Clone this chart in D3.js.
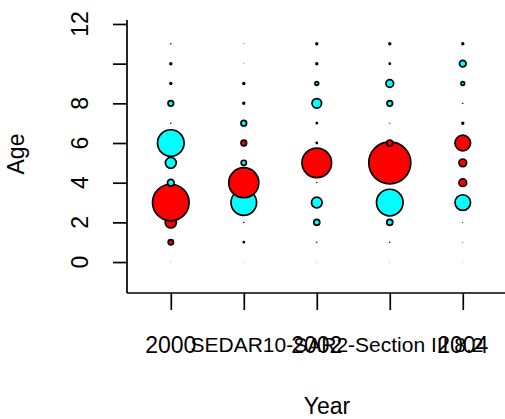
<!DOCTYPE html>
<html><head><meta charset="utf-8">
<script src="https://cdn.jsdelivr.net/npm/d3@7"></script>
<style>body{margin:0;background:#fff}svg{display:block}text{font-family:"Liberation Sans",Arial,sans-serif}</style>
</head><body>
<script>
const years = [2000, 2001, 2002, 2003, 2004];
const ages = [0, 1, 2, 3, 4, 5, 6, 7, 8, 9, 10, 11];
// residuals by age (0..11); positive = red, negative = cyan
const res2000 = [0.0003, 0.074, 0.34, 3.64, -0.12, -0.32, -1.92, 0.002, -0.085, 0.009, 0.009, 0.002];
const res2001 = [0.0003, 0.006, 0.002, -1.78, 2.45, -0.074, 0.085, -0.085, 0.009, 0.009, 0.0005, 0.0005];
const res2002 = [0.0003, 0.002, -0.098, -0.31, 0.002, 2.38, 0.006, 0.006, -0.25, -0.035, 0.009, 0.009];
const res2003 = [0.0003, 0.002, -0.098, -1.92, 0.002, 4.8, 0.098, 0.001, -0.085, -0.16, 0.006, 0.009];
const res2004 = [0.0003, 0.0005, 0.001, -0.66, 0.16, 0.16, 0.66, 0.009, 0.002, -0.035, -0.12, 0.009];
const residuals = [res2000, res2001, res2002, res2003, res2004];
const yTicks = [0, 2, 4, 6, 8, 10, 12];
const yTickLabels = ["0", "2", "4", "6", "8", "", "12"];
const xTicks = [2000, 2001, 2002, 2003, 2004];
const xTickLabels = ["2000", "", "2002", "", "2004"];
const xTitle = "Year", yTitle = "Age", footnote = "SEDAR10-SAR2-Section III 8.2";

const W = 505, H = 419;
const svg = d3.select("body").append("svg").attr("width", W).attr("height", H);
const x = d3.scaleLinear().domain([1999.4, 2004.88]).range([127, 527]);
const y = d3.scaleLinear().domain([-1.56, 12.2]).range([293, 20]);
const rMax = d3.max(residuals.flat(), d => Math.abs(d));
const r = d3.scaleSqrt().domain([0, rMax]).range([0, 21]);

const pts = [];
years.forEach((yr, i) => ages.forEach((a, j) => pts.push({yr, a, v: residuals[i][j]})));
svg.append("g").selectAll("circle").data(pts).join("circle")
  .attr("cx", d => x(d.yr)).attr("cy", d => y(d.a)).attr("r", d => r(Math.abs(d.v)))
  .attr("fill", d => d.v >= 0 ? "#ff0000" : "#00ffff")
  .attr("stroke", "#000")
  .attr("stroke-width", d => Math.min(1.7, 1.8 * r(Math.abs(d.v))));

// axes
const ax = svg.append("g").attr("transform", "translate(127,0)")
  .call(d3.axisLeft(y).tickValues(yTicks).tickSize(14).tickFormat(""));
const bx = svg.append("g").attr("transform", "translate(0,293)")
  .call(d3.axisBottom(x).tickValues(xTicks).tickSize(17).tickFormat(""));
[ax, bx].forEach(g => {
  g.selectAll("line,path").attr("stroke", "#000").attr("stroke-width", 1.7);
});
ax.select(".domain").attr("d", "M0,20V293");
bx.select(".domain").attr("d", "M127,0H527");

svg.append("g").selectAll("text").data(yTicks).join("text")
  .attr("transform", (d) => `translate(88,${y(d)}) rotate(-90)`)
  .attr("text-anchor", "middle").attr("font-size", 23)
  .text((d, i) => yTickLabels[i]);
svg.append("g").selectAll("text").data(xTicks).join("text")
  .attr("x", d => x(d)).attr("y", 353)
  .attr("text-anchor", "middle").attr("font-size", 23)
  .text((d, i) => xTickLabels[i]);
svg.append("text").attr("x", 337).attr("y", 352).attr("text-anchor", "middle")
  .attr("font-size", 21).text(footnote);
svg.append("text").attr("x", 327).attr("y", 414).attr("text-anchor", "middle")
  .attr("font-size", 23).text(xTitle);
svg.append("text").attr("transform", "translate(24,154) rotate(-90)")
  .attr("text-anchor", "middle").attr("font-size", 23).text(yTitle);
</script>
</body></html>
